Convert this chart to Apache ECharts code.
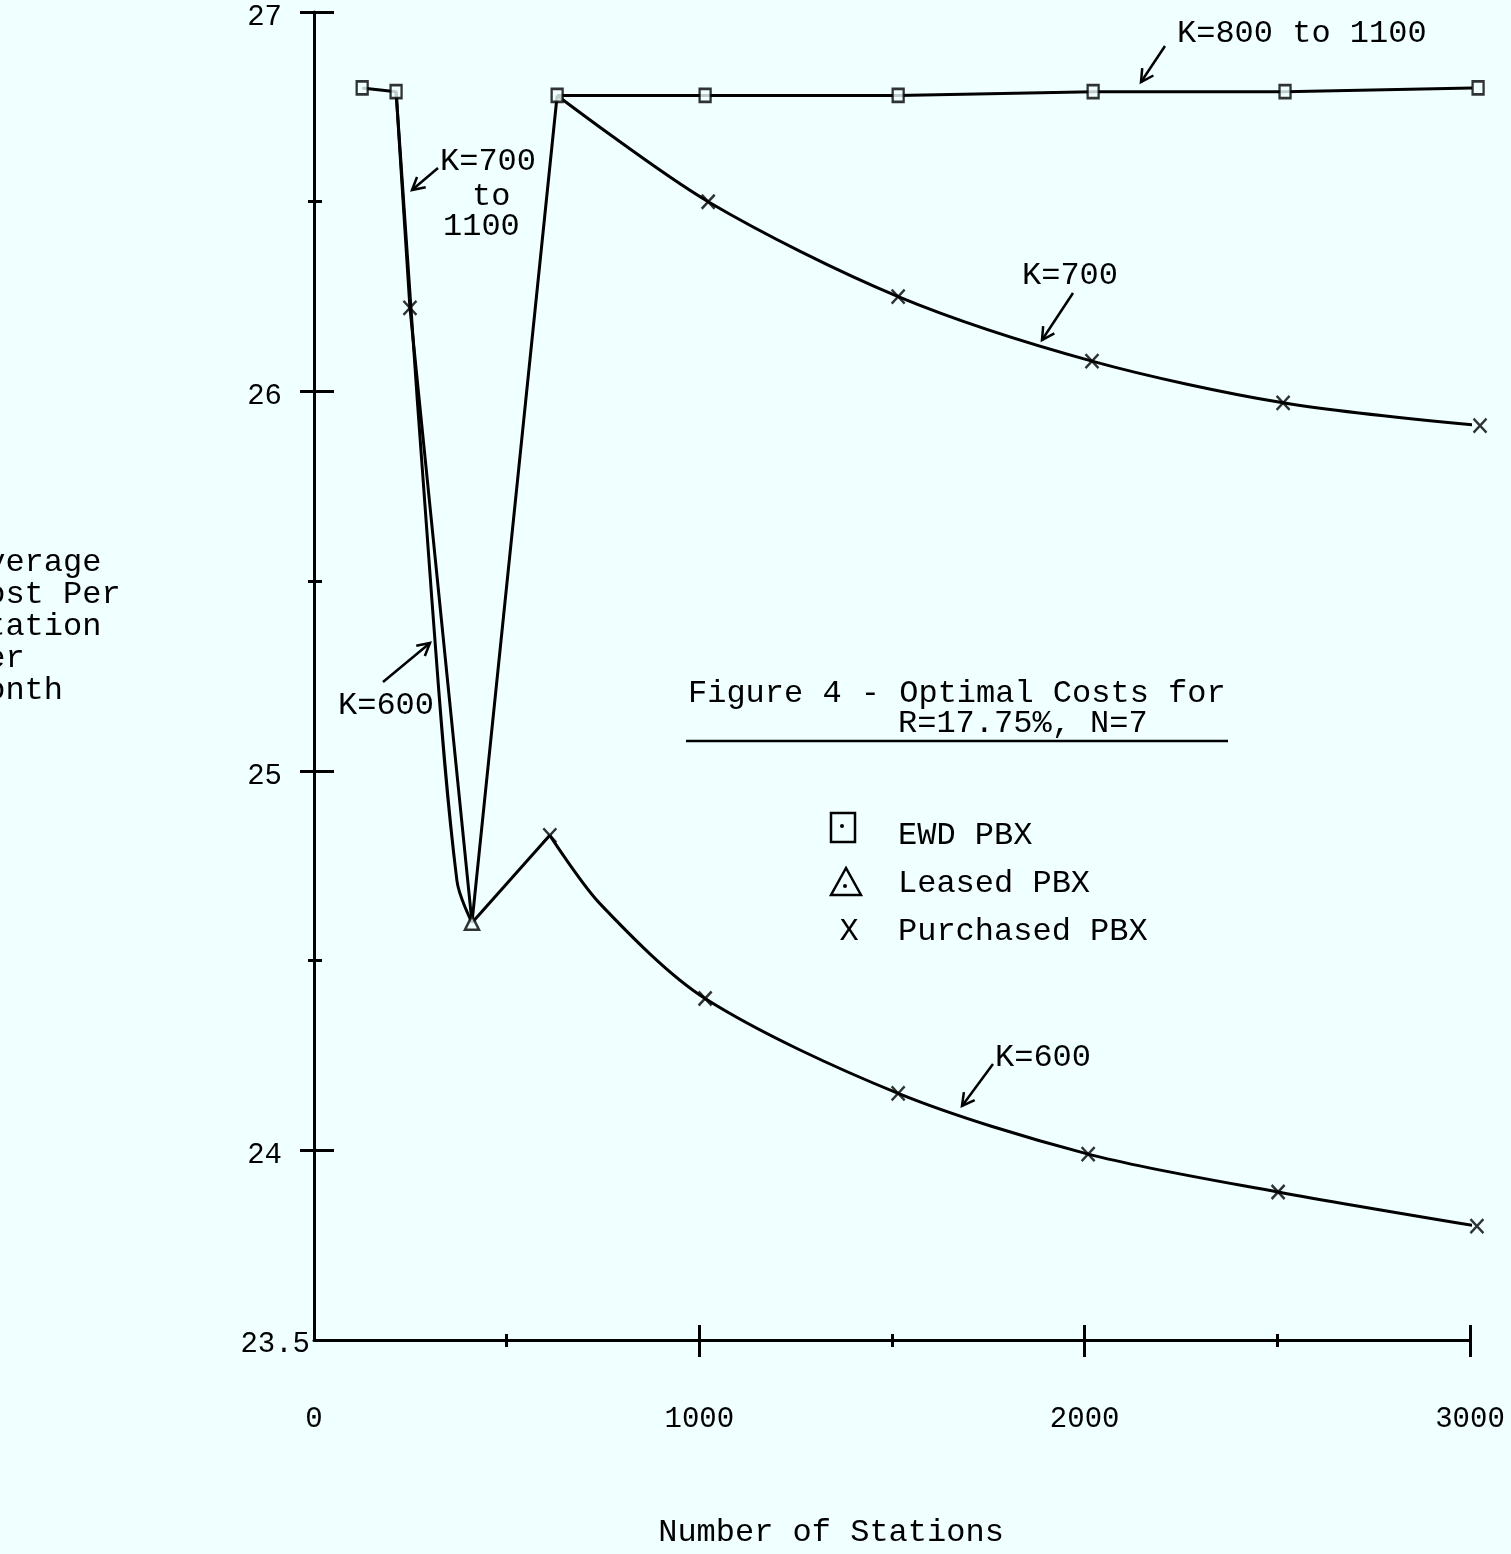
<!DOCTYPE html>
<html>
<head>
<meta charset="utf-8">
<script src="https://cdn.jsdelivr.net/npm/echarts@6/dist/echarts.min.js"></script>
<style>
html,body{margin:0;padding:0;background:#f0ffff;}
#c{width:1511px;height:1554px;}
</style>
</head>
<body>
<div id="c"></div>
<script>
// ---- data ----
const k700to1100X = [125, 213, 249, 410, 631];
const k700to1100Y = [26.80, 26.79, 26.22, 24.60, 26.78];
const k800to1100X = [631, 1015, 1516, 2022, 2520, 3021];
const k800to1100Y = [26.78, 26.78, 26.78, 26.79, 26.79, 26.80];
const k700X = [631, 1023, 1516, 2019, 2515, 3026];
const k700Y = [26.78, 26.50, 26.25, 26.08, 25.97, 25.91];
const k600DropX = [213, 306, 371, 410];
const k600DropY = [26.79, 25.45, 24.71, 24.60];
const k600RiseX = [410, 612];
const k600RiseY = [24.60, 24.83];
const k600X = [612, 742, 1015, 1516, 2009, 2502, 3018];
const k600Y = [24.83, 24.65, 24.40, 24.15, 23.99, 23.89, 23.80];
const ewdX = [125, 213, 631, 1015, 1516, 2022, 2520, 3021];
const ewdY = [26.80, 26.79, 26.78, 26.78, 26.78, 26.79, 26.79, 26.80];
const leasedX = [410];
const leasedY = [24.60];
const purchasedX = [249, 1023, 1516, 2019, 2515, 3026, 612, 1015, 1516, 2009, 2502, 3018];
const purchasedY = [26.22, 26.50, 26.25, 26.08, 25.97, 25.91, 24.83, 24.40, 24.15, 23.99, 23.89, 23.80];
const xTickLabels = [0, 1000, 2000, 3000];
const yTickLabels = [23.5, 24, 25, 26, 27];
const xMajorTicks = [1000, 2000, 3000];
const xMinorTicks = [500, 1500, 2500];
const yMajorTicks = [24, 25, 26, 27];
const yMinorTicks = [24.5, 25.5, 26.5];
const yNameLines = ['Average', 'Cost Per', 'Station', 'Per', 'Month'];

// ---- build ----
const INK = '#000';
const FONT = "'Liberation Mono', 'DejaVu Sans Mono', monospace";
const zip = (xs, ys) => xs.map((x, i) => [x, ys[i]]);
const tickStyle = { color: INK, width: 3 };

function xAx(ticks, inside, len, main) {
  return {
    type: 'value', min: 0, max: 3000, position: 'bottom',
    axisLine: { show: !!main, onZero: false, lineStyle: { color: INK, width: 3 } },
    axisTick: { show: true, customValues: ticks, inside: inside, length: len, lineStyle: tickStyle },
    axisLabel: main ? {
      show: true, customValues: xTickLabels, margin: 65, color: INK,
      fontFamily: FONT, fontSize: 29, formatter: v => String(v)
    } : { show: false },
    splitLine: { show: false },
    name: main ? 'Number of Stations' : '',
    nameLocation: 'middle', nameGap: 177,
    nameTextStyle: { fontFamily: FONT, fontSize: 32, color: INK, lineHeight: 32, padding: [0, 122, 0, 0] }
  };
}
function yAx(ticks, inside, len, main) {
  return {
    type: 'value', min: 23.5, max: 27, position: 'left',
    axisLine: { show: !!main, onZero: false, lineStyle: { color: INK, width: 3 } },
    axisTick: { show: true, customValues: ticks, inside: inside, length: len, lineStyle: tickStyle },
    axisLabel: main ? {
      show: true, customValues: yTickLabels, margin: 4, color: INK,
      fontFamily: FONT, fontSize: 29,
      formatter: v => v === 23.5 ? '{b|23.5}' : '{a|' + v + '}',
      rich: {
        a: { fontFamily: FONT, fontSize: 29, color: INK, padding: [10, 28, 0, 0] },
        b: { fontFamily: FONT, fontSize: 29, color: INK, padding: [8, 0, 0, 0] }
      }
    } : { show: false },
    splitLine: { show: false }
  };
}

function lineSeries(name, xs, ys, smooth) {
  return {
    name: name, type: 'line', data: zip(xs, ys), xAxisIndex: 0, yAxisIndex: 0,
    showSymbol: false, symbol: 'none', smooth: smooth, clip: false,
    lineStyle: { color: INK, width: 3 }, z: 3, silent: true
  };
}

function arrow(x1, y1, x2, y2) {
  const a = Math.atan2(y2 - y1, x2 - x1), L = 14, s = 0.5;
  return {
    type: 'group', children: [
      { type: 'line', shape: { x1: x1, y1: y1, x2: x2, y2: y2 }, style: { stroke: INK, lineWidth: 2.5 } },
      { type: 'polyline', shape: { points: [
        [x2 - L * Math.cos(a - s), y2 - L * Math.sin(a - s)], [x2, y2],
        [x2 - L * Math.cos(a + s), y2 - L * Math.sin(a + s)]] },
        style: { stroke: INK, lineWidth: 2.5, fill: null } }
    ]
  };
}
function txt(t, x, y, size, align) {
  return { type: 'text', x: x, y: y, style: {
    text: t, font: (size || 32) + 'px ' + FONT, fill: INK,
    align: align || 'left', verticalAlign: 'middle',
    textAlign: align || 'left', textVerticalAlign: 'middle' } };
}

const graphics = [];
yNameLines.forEach((t, i) => graphics.push(txt(t, -33, 563 + i * 32)));
graphics.push(txt('K=800 to 1100', 1177, 34));
graphics.push(arrow(1165, 46, 1141, 82));
graphics.push(txt('K=700', 1022, 276));
graphics.push(arrow(1073, 293, 1042, 340));
graphics.push(txt('K=700', 440, 162));
graphics.push(txt('to', 472, 197));
graphics.push(txt('1100', 443, 227));
graphics.push(arrow(438, 168, 412, 190));
graphics.push(txt('K=600', 338, 706));
graphics.push(arrow(383, 682, 430, 643));
graphics.push(txt('K=600', 995, 1058));
graphics.push(arrow(993, 1064, 962, 1106));
// title underline
graphics.push({ type: 'line', shape: { x1: 686, y1: 741, x2: 1228, y2: 741 }, style: { stroke: INK, lineWidth: 2.5 } });
// legend
graphics.push({ type: 'rect', shape: { x: 831, y: 813, width: 24, height: 29 }, style: { stroke: INK, lineWidth: 2.5, fill: null } });
graphics.push({ type: 'circle', shape: { cx: 842, cy: 826, r: 2 }, style: { fill: INK } });
graphics.push(txt('EWD PBX', 898, 836));
graphics.push({ type: 'polygon', shape: { points: [[846, 868], [831, 895], [861, 895]] }, style: { stroke: INK, lineWidth: 2.5, fill: null } });
graphics.push({ type: 'circle', shape: { cx: 845, cy: 886, r: 2 }, style: { fill: INK } });
graphics.push(txt('Leased PBX', 898, 884));
graphics.push(txt('X', 849, 932, 32, 'center'));
graphics.push(txt('Purchased PBX', 898, 932));

const option = {
  backgroundColor: '#f0ffff',
  animation: false,
  title: [
    { text: 'Figure 4 - Optimal Costs for', left: 688, top: 678, padding: 0,
      textStyle: { fontFamily: FONT, fontSize: 32, fontWeight: 'normal', color: INK, lineHeight: 32 } },
    { text: 'R=17.75%, N=7', left: 898, top: 708, padding: 0,
      textStyle: { fontFamily: FONT, fontSize: 32, fontWeight: 'normal', color: INK, lineHeight: 32 } }
  ],
  legend: { show: false },
  grid: { left: 314, right: 41, top: 12, bottom: 214, containLabel: false, outerBoundsMode: 'none' },
  xAxis: [
    xAx(xMajorTicks, false, 17, true),
    xAx(xMajorTicks, true, 15, false),
    xAx(xMinorTicks, false, 7, false),
    xAx(xMinorTicks, true, 6, false)
  ],
  yAxis: [
    yAx(yMajorTicks, false, 14, true),
    yAx(yMajorTicks, true, 20, false),
    yAx(yMinorTicks, false, 6, false),
    yAx(yMinorTicks, true, 8, false)
  ],
  series: [
    lineSeries('K=700 to 1100', k700to1100X, k700to1100Y, false),
    lineSeries('K=800 to 1100', k800to1100X, k800to1100Y, false),
    lineSeries('K=700', k700X, k700Y, 0.3),
    lineSeries('K=600', k600DropX, k600DropY, 0.35),
    lineSeries('K=600 ', k600RiseX, k600RiseY, false),
    lineSeries('K=600  ', k600X, k600Y, 0.3),
    { name: 'EWD PBX', type: 'scatter', data: zip(ewdX, ewdY), symbol: 'rect', symbolSize: [11, 13],
      itemStyle: { color: '#f0ffff', borderColor: INK, borderWidth: 2.5 }, z: 5, clip: false, silent: true },
    { name: 'Leased PBX', type: 'scatter', data: zip(leasedX, leasedY), symbol: 'triangle', symbolSize: [14, 14],
      itemStyle: { color: '#f0ffff', borderColor: INK, borderWidth: 2.5 }, z: 5, clip: false, silent: true },
    { name: 'Purchased PBX', type: 'scatter', data: zip(purchasedX, purchasedY),
      symbol: 'path://M0,0L10,10M10,0L0,10', symbolSize: [13, 14],
      itemStyle: { color: 'none', borderColor: INK, borderWidth: 2.5 }, z: 5, clip: false, silent: true }
  ],
  graphic: graphics
};

const chart = echarts.init(document.getElementById('c'), null, { renderer: 'canvas' });
chart.setOption(option);
</script>
</body>
</html>
